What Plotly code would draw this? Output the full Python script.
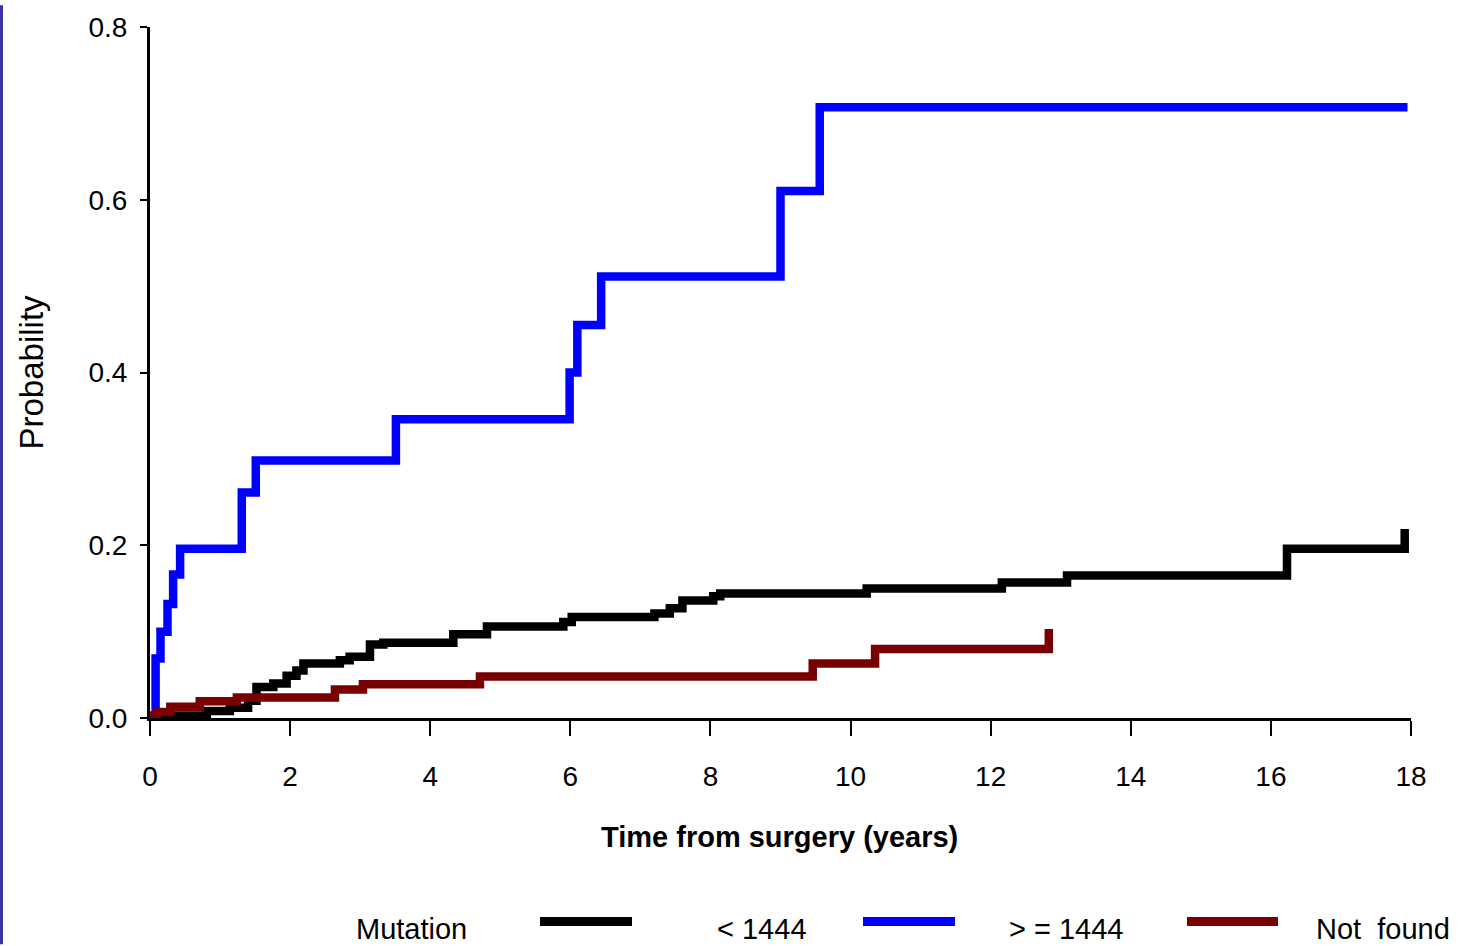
import plotly.graph_objects as go

# ---- data (step functions: time of jump, cumulative probability after jump) ----
blue_t = [0, 0.08, 0.15, 0.25, 0.33, 0.43, 1.31, 1.51, 3.51, 5.99, 6.10, 6.44, 9.00, 9.56, 17.95]
blue_p = [0, 0.069, 0.100, 0.132, 0.166, 0.196, 0.261, 0.298, 0.346, 0.400, 0.455, 0.511, 0.610, 0.707, 0.707]

black_t = [0, 0.15, 0.81, 1.14, 1.40, 1.52, 1.76, 1.95, 2.09, 2.19, 2.71, 2.85, 3.14, 3.33, 4.33, 4.81,
           5.90, 6.02, 7.20, 7.42, 7.60, 8.04, 8.14, 10.23, 12.16, 13.09, 16.23, 17.91, 17.97]
black_p = [0, 0.003, 0.008, 0.012, 0.020, 0.036, 0.040, 0.049, 0.055, 0.063, 0.067, 0.071, 0.085, 0.087,
           0.097, 0.106, 0.111, 0.117, 0.121, 0.127, 0.136, 0.141, 0.144, 0.150, 0.157, 0.165, 0.196, 0.214, 0.214]

red_t = [0, 0.03, 0.10, 0.29, 0.71, 1.24, 2.64, 3.04, 4.71, 9.46, 10.35, 12.83]
red_p = [0, 0.003, 0.007, 0.013, 0.0195, 0.0236, 0.033, 0.039, 0.048, 0.063, 0.080, 0.103]

x_ticks = [0, 2, 4, 6, 8, 10, 12, 14, 16, 18]
y_ticks = [0.0, 0.2, 0.4, 0.6, 0.8]
y_tick_labels = ["0.0", "0.2", "0.4", "0.6", "0.8"]

legend_title = "Mutation"
series_names = ["< 1444", "> = 1444", "Not  found"]
series_colors = ["#000000", "#0000ff", "#780000"]

FONT = "Liberation Sans, Arial, sans-serif"

# ---- layout geometry (pixels) ----
W, H = 1461, 946
L, R, T, B = 150, 50, 22, 228
PW, PH = W - L - R, H - T - B


def px_x(p):
    return (p - L) / PW


def px_y(p):
    return (T + PH - p) / PH


fig = go.Figure()
fig.add_trace(go.Scatter(x=blue_t, y=blue_p, mode="lines", line=dict(shape="hv", color=series_colors[1], width=8.5),
                         name=series_names[1], showlegend=False))
fig.add_trace(go.Scatter(x=black_t, y=black_p, mode="lines", line=dict(shape="hv", color=series_colors[0], width=8.5),
                         name=series_names[0], showlegend=False))
fig.add_trace(go.Scatter(x=red_t, y=red_p, mode="lines", line=dict(shape="hv", color=series_colors[2], width=8.5),
                         name=series_names[2], showlegend=False))

fig.update_layout(
    width=W, height=H,
    margin=dict(l=L, r=R, t=T, b=B, pad=0),
    paper_bgcolor="white", plot_bgcolor="white",
    font=dict(family=FONT, color="black"),
    xaxis=dict(range=[0, 18], tickvals=x_ticks, showgrid=False, zeroline=False,
               showline=True, linecolor="black", linewidth=3,
               ticks="outside", ticklen=15, tickwidth=2, tickcolor="black",
               ticklabelstandoff=16, tickfont=dict(size=28, family=FONT, color="black")),
    yaxis=dict(range=[0, 0.8], tickvals=y_ticks, ticktext=y_tick_labels, showgrid=False, zeroline=False,
               showline=True, linecolor="black", linewidth=3,
               ticks="outside", ticklen=7, tickwidth=2, tickcolor="black",
               ticklabelstandoff=7, tickfont=dict(size=28, family=FONT, color="black")),
)

annotations = [
    dict(text="<b>Time from surgery (years)</b>", x=px_x(779), y=px_y(838), xref="paper", yref="paper",
         showarrow=False, xanchor="center", yanchor="middle", font=dict(size=29, family=FONT, color="black")),
    dict(text="Probability", x=px_x(31), y=px_y(370), xref="paper", yref="paper", textangle=-90,
         showarrow=False, xanchor="center", yanchor="middle", font=dict(size=33, family=FONT, color="black")),
    dict(text=legend_title, x=px_x(354), y=px_y(931), xref="paper", yref="paper",
         showarrow=False, xanchor="left", yanchor="middle", font=dict(size=29, family=FONT, color="black")),
]
legend_text_x = [715, 1007, 1314]
legend_line_x = [(540, 632), (863, 955), (1187, 1278)]
for name, col, tx, (lx0, lx1) in zip(series_names, series_colors, legend_text_x, legend_line_x):
    annotations.append(dict(text=name, x=px_x(tx), y=px_y(931), xref="paper", yref="paper",
                            showarrow=False, xanchor="left", yanchor="middle",
                            font=dict(size=29, family=FONT, color="black")))
    fig.add_shape(type="line", xref="paper", yref="paper", x0=px_x(lx0), x1=px_x(lx1),
                  y0=px_y(923), y1=px_y(923), line=dict(color=col, width=9))

# left border band
fig.add_shape(type="rect", xref="paper", yref="paper", x0=px_x(0), x1=px_x(3), y0=px_y(H), y1=px_y(0),
              fillcolor="#3a35a3", line=dict(width=0), layer="above")

fig.update_layout(annotations=annotations)
fig.write_html("out.html", config={"displayModeBar": False},
               post_script="document.body.style.margin='0px';document.body.style.overflow='hidden';")
